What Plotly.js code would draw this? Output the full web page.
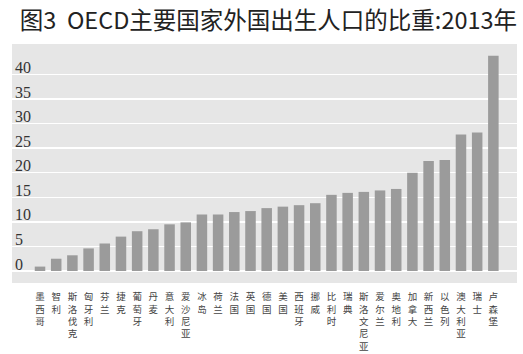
<!DOCTYPE html>
<html>
<head>
<meta charset="utf-8">
<script src="https://cdn.plot.ly/plotly-3.0.1.min.js"></script>
<style>html,body{margin:0;padding:0;background:#fff;}#chart{width:523px;height:354px;}</style>
</head>
<body>
<div id="chart"></div>
<script>
const countries = ["墨西哥","智利","斯洛伐克","匈牙利","芬兰","捷克","葡萄牙","丹麦","意大利","爱沙尼亚","冰岛","荷兰","法国","英国","德国","美国","西班牙","挪威","比利时","瑞典","斯洛文尼亚","爱尔兰","奥地利","加拿大","新西兰","以色列","澳大利亚","瑞士","卢森堡"];
const shares = [0.9,2.5,3.2,4.6,5.6,7.0,8.1,8.5,9.5,9.9,11.5,11.5,12.0,12.2,12.8,13.1,13.4,13.8,15.5,15.9,16.1,16.4,16.7,20.0,22.4,22.6,27.8,28.2,43.8];
const yTicks = [0,5,10,15,20,25,30,35,40];

const verticalLabels = countries.map(c => c.split("").join("<br>"));
const idx = countries.map((c,i) => i);

const trace = {
  type: "bar",
  x: idx,
  y: shares,
  marker: {color: "#9b9b9b"},
  hoverinfo: "skip"
};

const layout = {
  width: 523,
  height: 354,
  margin: {l: 12, r: 6, t: 44, b: 71, pad: 0},
  paper_bgcolor: "#ffffff",
  plot_bgcolor: "#e6e6e6",
  bargap: 0.35,
  showlegend: false,
  title: {
    text: "图3  OECD主要国家外国出生人口的比重:2013年",
    x: 0.038, xanchor: "left",
    y: 0.94, yanchor: "middle",
    font: {family: "Noto Sans CJK SC", size: 23.5, color: "#222222"}
  },
  xaxis: {
    range: [-1.73, 29.46],
    tickmode: "array",
    tickvals: idx,
    ticktext: verticalLabels,
    tickangle: 0,
    ticks: "outside",
    ticklen: 5,
    tickcolor: "rgba(0,0,0,0)",
    showgrid: false,
    zeroline: false,
    showline: false,
    tickfont: {family: "Noto Sans CJK SC", size: 9.5, color: "#444444"}
  },
  yaxis: {
    range: [-2.44, 46.2],
    tickmode: "array",
    tickvals: yTicks,
    ticktext: yTicks.map(String),
    ticklabelposition: "inside",
    ticklabeloverflow: "allow",
    ticklabelshift: -7,
    ticks: "",
    showgrid: true,
    gridcolor: "#ffffff",
    gridwidth: 1.5,
    zeroline: false,
    showline: false,
    tickfont: {family: "Liberation Serif", size: 16, color: "#333333"}
  }
};

Plotly.newPlot("chart", [trace], layout, {displayModeBar: false, staticPlot: true});
</script>
</body>
</html>
